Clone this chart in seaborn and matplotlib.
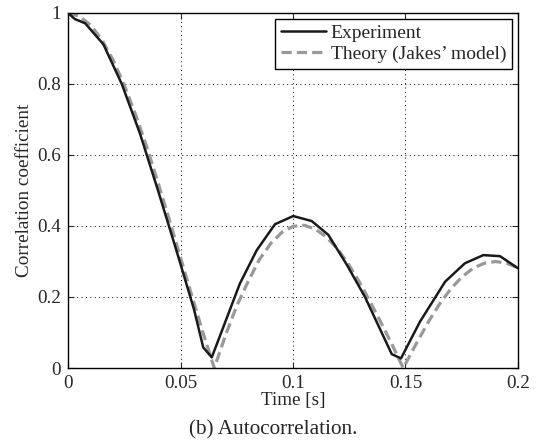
import numpy as np
import pandas as pd
import seaborn as sns
import matplotlib
matplotlib.use("Agg")
import matplotlib.pyplot as plt

exp_t = [0, 0.003, 0.0076, 0.0157, 0.0239, 0.032, 0.040, 0.048, 0.056, 0.0601,
         0.0639, 0.0764, 0.0839, 0.092, 0.1001, 0.1083, 0.1157, 0.124, 0.132,
         0.1439, 0.148, 0.1564, 0.1676, 0.1764, 0.1846, 0.192, 0.2]
exp_r = [1.0, 0.983, 0.971, 0.912, 0.80, 0.66, 0.50, 0.335, 0.165, 0.058,
         0.030, 0.238, 0.332, 0.405, 0.428, 0.414, 0.375, 0.29, 0.20,
         0.039, 0.027, 0.13, 0.243, 0.295, 0.318, 0.315, 0.281]

# Jakes' model curve
th_t = [0, 0.005, 0.01, 0.015, 0.02, 0.025, 0.03, 0.035, 0.04, 0.045, 0.05,
        0.055, 0.06, 0.065, 0.07, 0.075, 0.08, 0.085, 0.09, 0.095, 0.1, 0.105,
        0.11, 0.115, 0.12, 0.125, 0.13, 0.135, 0.14, 0.145, 0.149, 0.155,
        0.16, 0.165, 0.17, 0.175, 0.18, 0.185, 0.19, 0.195, 0.2]
th_r = [1.0, 0.991, 0.966, 0.925, 0.868, 0.797, 0.714, 0.623, 0.522, 0.418, 0.311,
        0.204, 0.099, 0.0, 0.092, 0.175, 0.243, 0.305, 0.350, 0.382, 0.399, 0.402,
        0.391, 0.368, 0.334, 0.289, 0.237, 0.178, 0.117, 0.053, 0.0, 0.071,
        0.128, 0.179, 0.222, 0.256, 0.281, 0.295, 0.300, 0.295, 0.282]

xticks = [0, 0.05, 0.1, 0.15, 0.2]
xticklabels = ["0", "0.05", "0.1", "0.15", "0.2"]
yticks = [0, 0.2, 0.4, 0.6, 0.8, 1]
yticklabels = ["0", "0.2", "0.4", "0.6", "0.8", "1"]

sns.set_style("ticks")
plt.rcParams['font.family'] = ['Liberation Serif', 'DejaVu Serif']

fig = plt.figure(figsize=(5.39, 4.43), dpi=100)
ax = fig.add_axes([0.1262, 0.1693, 0.8348, 0.8014])

exp_df = pd.DataFrame({"t": exp_t, "r": exp_r})
th_df = pd.DataFrame({"t": th_t, "r": th_r})

sns.lineplot(data=exp_df, x="t", y="r", ax=ax, color="#1a1a1a", linewidth=1.8,
             label="Experiment", sort=False)
sns.lineplot(data=th_df, x="t", y="r", ax=ax, color="#999999", linewidth=2.3,
             label="Theory (Jakes\u2019 model)", sort=False)
ax.lines[1].set_dashes([3.2, 1.6])
ax.lines[0].set_zorder(3)

ax.set_xlim(0, 0.2)
ax.set_ylim(0, 1)
ax.set_xticks(xticks)
ax.set_xticklabels(xticklabels)
ax.set_yticks(yticks)
ax.set_yticklabels(yticklabels)
ax.tick_params(direction="in", top=True, right=True, labelsize=13.7, length=4,
               width=0.8, pad=5)
ax.grid(True, linestyle=(0, (1, 3.5)), color="black", linewidth=0.7)
for s in ax.spines.values():
    s.set_visible(True)
    s.set_linewidth(1.0)
    s.set_color("black")

ax.set_xlabel("Time [s]", fontsize=13.8, labelpad=0)
ax.set_ylabel("Correlation coefficient", fontsize=13.8, labelpad=3)

leg = ax.legend(loc="upper right", bbox_to_anchor=(1.0, 1.0), fontsize=14,
                frameon=True, fancybox=False, framealpha=1, edgecolor="black",
                handlelength=2.3, handletextpad=0.25, borderpad=0.3,
                labelspacing=0.15, borderaxespad=0.3)
leg.get_frame().set_linewidth(1.0)

fig.text(0.507, 0.029, "(b) Autocorrelation.", ha="center", va="center", fontsize=15.3)

fig.savefig("out.png", dpi=100)
